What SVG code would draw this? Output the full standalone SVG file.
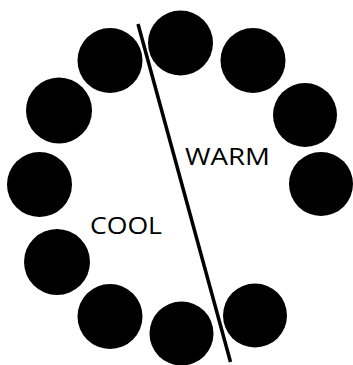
<svg xmlns="http://www.w3.org/2000/svg" width="353" height="365" viewBox="0 0 353 365">
<style>
.dot{fill:#000}
.lbl{font-family:"Open Sans","DejaVu Sans",sans-serif;font-size:24px;font-weight:500;fill:#000}
.div{stroke:#000;stroke-width:3.5;fill:none}
</style>
<rect width="353" height="365" fill="#fff"/>
<g id="dots">
<g id="c1"><circle class="dot" cx="180.5" cy="43" r="32.5"/></g>
<g id="c2"><circle class="dot" cx="253" cy="60.5" r="32.5"/></g>
<g id="c3"><circle class="dot" cx="305" cy="115" r="32"/></g>
<g id="c4"><circle class="dot" cx="321" cy="184" r="32"/></g>
<g id="c5"><circle class="dot" cx="255" cy="315.5" r="32"/></g>
<g id="c6"><circle class="dot" cx="181.5" cy="333.5" r="32"/></g>
<g id="c7"><circle class="dot" cx="110" cy="316.5" r="32.5"/></g>
<g id="c8"><circle class="dot" cx="57" cy="262" r="33"/></g>
<g id="c9"><circle class="dot" cx="39.5" cy="184.5" r="32.5"/></g>
<g id="c10"><circle class="dot" cx="59" cy="110.5" r="33"/></g>
<g id="c11"><circle class="dot" cx="110" cy="60.5" r="32.5"/></g>
</g>
<g id="connectors">
<line class="div" x1="138" y1="24" x2="230.5" y2="362"/>
</g>
<g id="warm"><text class="lbl" x="185" y="165" textLength="85" lengthAdjust="spacingAndGlyphs">WARM</text></g>
<g id="cool"><text class="lbl" x="90" y="234" textLength="72" lengthAdjust="spacingAndGlyphs">COOL</text></g>
</svg>
